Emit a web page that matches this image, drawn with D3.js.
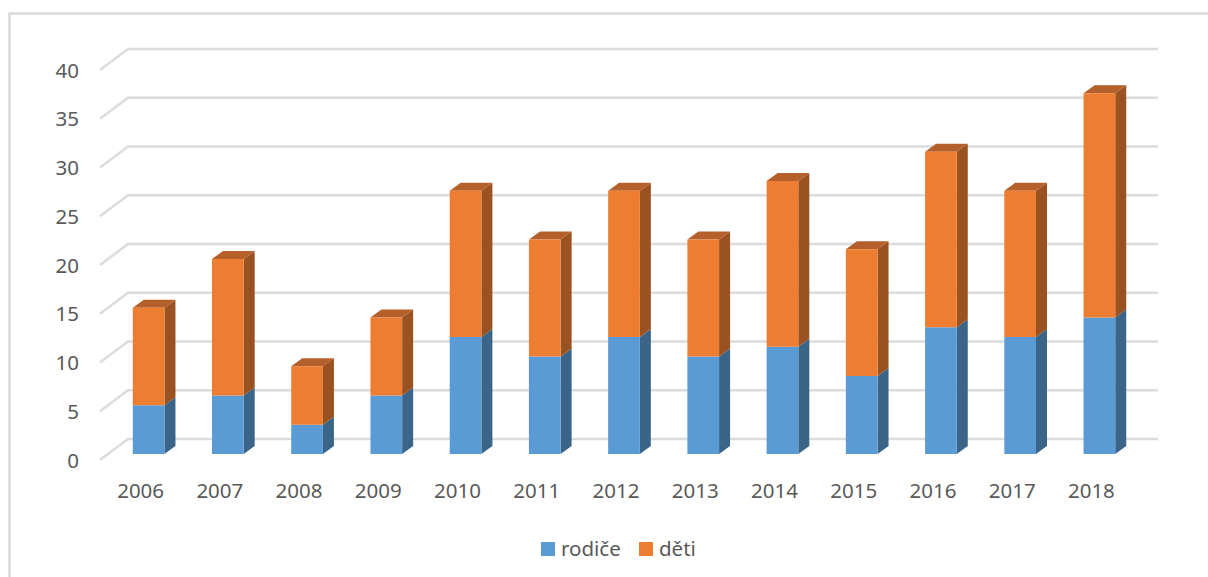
<!DOCTYPE html>
<html>
<head>
<meta charset="utf-8">
<script src="https://d3js.org/d3.v7.min.js"></script>
<style>
  html, body { margin: 0; padding: 0; background: #fff; overflow: hidden; }
  text { font-family: "Noto Sans", "Open Sans", sans-serif; fill: #595959; }
</style>
</head>
<body>
<svg id="chart" width="1208" height="577"></svg>
<script>
// chart values
const years = ["2006","2007","2008","2009","2010","2011","2012","2013","2014","2015","2016","2017","2018"];
const rodice = [5, 6, 3, 6, 12, 10, 12, 10, 11, 8, 13, 12, 14];
const deti = [10, 14, 6, 8, 15, 12, 15, 12, 17, 13, 18, 15, 23];
const yTicks = [0, 5, 10, 15, 20, 25, 30, 35, 40];
const seriesNames = ["rodiče", "děti"];

const svg = d3.select("#chart");

// depth of the fake 3d
const barDx = 11, barDy = -8;

const x = d3.scaleBand().domain(years).range([109, 1139]).paddingInner(0.6).paddingOuter(0.3);
const y = d3.scaleLinear().domain([0, 40]).range([454, 64]);

// frame, open on the right and at the bottom
svg.append("path")
    .attr("d", "M9.5,577V13.5H1208")
    .attr("fill", "none")
    .attr("stroke", "#d9d9d9")
    .attr("stroke-width", 2.5);

// grid: the slanted part then the back wall
const grid = svg.append("g");
yTicks.forEach(t => {
    grid.append("path")
        .attr("d", `M100,${y(t) + 6}L128,${y(t) - 15}H1158`)
        .attr("fill", "none")
        .attr("stroke", "#dcdcdc")
        .attr("stroke-width", 2.5);
});

// stacked bars
const colors = [
    {front: "#5b9bd5", side: "#3a6589", top: "#4a80b0"},
    {front: "#ed7d31", side: "#9a5220", top: "#b5602a"}
];
const stacked = d3.stack().keys([0, 1]).value((d, k) => d[k])(years.map((yr, i) => [rodice[i], deti[i]]));

stacked.forEach((layer, s) => {
    const g = svg.append("g");
    layer.forEach((d, i) => {
        const x0 = x(years[i]), w = x.bandwidth();
        const top = y(d[1]), bottom = y(d[0]);
        // side
        g.append("path")
            .attr("d", `M${x0 + w},${top}l${barDx},${barDy}V${bottom + barDy}l${-barDx},${-barDy}Z`)
            .attr("fill", colors[s].side);
        // top (only the upper series shows it)
        if (s === stacked.length - 1) {
            g.append("path")
                .attr("d", `M${x0},${top}l${barDx},${barDy}h${w}l${-barDx},${-barDy}Z`)
                .attr("fill", colors[s].top);
        }
        g.append("rect")
            .attr("x", x0)
            .attr("y", top)
            .attr("width", w)
            .attr("height", bottom - top)
            .attr("fill", colors[s].front);
    });
});

// axes
const yAxis = svg.append("g")
    .attr("transform", "translate(79,6.5)")
    .call(d3.axisLeft(y).tickValues(yTicks).tickSize(0).tickPadding(0));
yAxis.select(".domain").remove();
yAxis.selectAll("text").attr("font-size", 20.5).style("font-family", null);

const xAxis = svg.append("g")
    .attr("transform", "translate(-8,483)")
    .call(d3.axisBottom(x).tickSize(0).tickPadding(0));
xAxis.select(".domain").remove();
xAxis.selectAll("text").attr("font-size", 20.5).style("font-family", null);

// legend
const legendX = [541, 639];
seriesNames.forEach((name, i) => {
    svg.append("rect")
        .attr("x", legendX[i])
        .attr("y", 542)
        .attr("width", 14)
        .attr("height", 14)
        .attr("fill", colors[i].front);
    svg.append("text")
        .attr("x", legendX[i] + 20)
        .attr("y", 556)
        .attr("font-size", 20.5)
        .text(name);
});
</script>
</body>
</html>
